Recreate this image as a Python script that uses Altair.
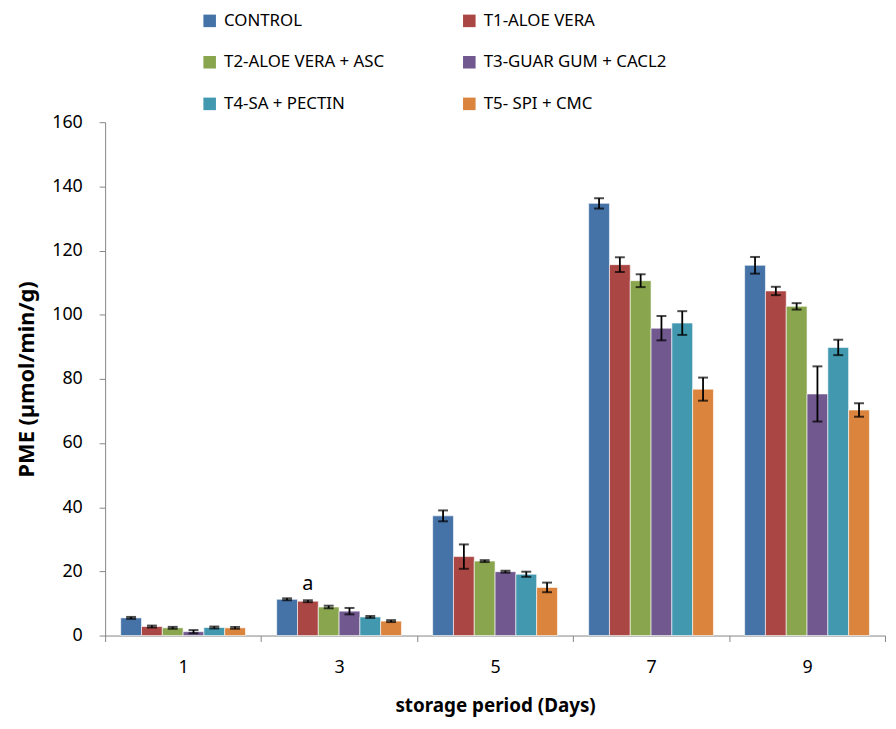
import altair as alt
import pandas as pd

days = ["1", "3", "5", "7", "9"]
treatments = ["CONTROL", "T1-ALOE VERA", "T2-ALOE VERA + ASC",
              "T3-GUAR GUM + CACL2", "T4-SA + PECTIN", "T5- SPI + CMC"]
colors = ["#4572A7", "#AA4643", "#89A54E", "#71588F", "#4198AF", "#DB843D"]

mean_control = [5.5, 11.3, 37.3, 134.7, 115.4]
mean_t1 = [2.8, 10.7, 24.6, 115.6, 107.4]
mean_t2 = [2.4, 8.9, 23.2, 110.6, 102.6]
mean_t3 = [1.2, 7.6, 19.9, 95.8, 75.3]
mean_t4 = [2.5, 5.8, 19.1, 97.4, 89.8]
mean_t5 = [2.4, 4.5, 15.0, 76.8, 70.3]

err_control = [0.3, 0.3, 1.7, 1.6, 2.6]
err_t1 = [0.3, 0.3, 3.8, 2.3, 1.3]
err_t2 = [0.3, 0.4, 0.3, 2.0, 1.0]
err_t3 = [0.5, 1.0, 0.3, 3.8, 8.6]
err_t4 = [0.3, 0.3, 0.8, 3.7, 2.4]
err_t5 = [0.3, 0.3, 1.5, 3.6, 2.1]

ann_day = ["3"]
ann_treatment = ["T1-ALOE VERA"]
ann_text = ["a"]

means = [mean_control, mean_t1, mean_t2, mean_t3, mean_t4, mean_t5]
errs = [err_control, err_t1, err_t2, err_t3, err_t4, err_t5]

rows = []
for t, m, e in zip(treatments, means, errs):
    for d, mv, ev in zip(days, m, e):
        rows.append({"day": d, "treatment": t, "mean": mv, "err": ev,
                     "lo": mv - ev, "hi": mv + ev})
df = pd.DataFrame(rows)

ann_rows = []
for d, t, s in zip(ann_day, ann_treatment, ann_text):
    r = df[(df.day == d) & (df.treatment == t)].iloc[0]
    ann_rows.append({"day": d, "treatment": t, "label": s, "hi": r["hi"]})
ann_df = pd.DataFrame(ann_rows)

FONT = "Noto Sans"

x = alt.X("day:N", sort=days,
          scale=alt.Scale(paddingInner=0, paddingOuter=0),
          axis=alt.Axis(title="storage period (Days)", labelAngle=0,
                        tickBand="extent", tickSize=6, labelPadding=17,
                        titlePadding=21, titleFontSize=19))
xo = alt.XOffset("treatment:N", sort=treatments,
                 scale=alt.Scale(paddingInner=0, paddingOuter=0.75))
yaxis = alt.Axis(title="PME (µmol/min/g)", values=list(range(0, 161, 20)),
                 tickSize=6, labelPadding=17, titlePadding=13,
                 titleFontSize=22)
yscale = alt.Scale(domain=[0, 160], nice=False)

bars = alt.Chart(df).mark_bar(stroke="white", strokeWidth=1,
                              strokeOpacity=0.6).encode(
    x=x, xOffset=xo,
    y=alt.Y("mean:Q", scale=yscale, axis=yaxis),
    color=alt.Color("treatment:N", sort=treatments,
                    scale=alt.Scale(domain=treatments, range=colors),
                    legend=alt.Legend(title=None, orient="none",
                                      direction="horizontal",
                                      legendX=97, legendY=-111,
                                      columns=2, symbolType="square",
                                      symbolSize=160, symbolStrokeWidth=0,
                                      labelFontSize=17, labelLimit=400,
                                      columnPadding=77, rowPadding=24,
                                      labelOffset=6, padding=0)),
)

rules = alt.Chart(df).mark_rule(color="black", strokeWidth=1.8).encode(
    x=x, xOffset=xo,
    y=alt.Y("lo:Q", scale=yscale, axis=yaxis), y2="hi:Q")
cap_lo = alt.Chart(df).mark_tick(color="black", thickness=2, size=10).encode(
    x=x, xOffset=xo, y=alt.Y("lo:Q", scale=yscale, axis=yaxis))
cap_hi = alt.Chart(df).mark_tick(color="black", thickness=2, size=10).encode(
    x=x, xOffset=xo, y=alt.Y("hi:Q", scale=yscale, axis=yaxis))

ann = alt.Chart(ann_df).mark_text(fontSize=20, dy=-16, color="black",
                                  font=FONT).encode(
    x=x, xOffset=xo, y=alt.Y("hi:Q", scale=yscale, axis=yaxis),
    text="label:N")

chart = alt.layer(bars, rules, cap_lo, cap_hi, ann).properties(
    width=787, height=518,
    autosize=alt.AutoSizeParams(type="none"),
    padding={"left": 98, "top": 112, "right": 3, "bottom": 83},
).configure_view(stroke=None).configure_axis(
    grid=False, domainColor="#868686", tickColor="#868686",
    labelFont=FONT, titleFont=FONT, labelFontSize=18, labelColor="black",
    titleColor="black", titleFontWeight="bold",
).configure_legend(labelFont=FONT, labelColor="black")

chart.save("out.html", embed_options={"renderer": "svg", "actions": False})
